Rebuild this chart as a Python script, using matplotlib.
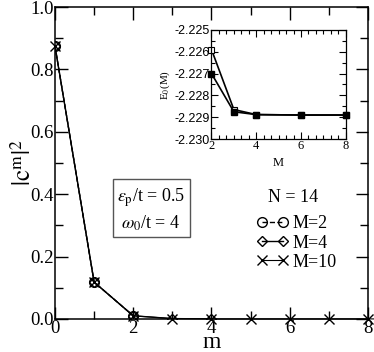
import matplotlib
matplotlib.use('Agg')
import matplotlib.pyplot as plt
from matplotlib.ticker import MultipleLocator, FormatStrFormatter

# main panel: weight of the m-phonon sector, N = 14
m2 = [0, 1, 2]
c2 = [0.875, 0.118, 0.010]
m4 = [0, 1, 2, 3, 4]
c4 = [0.875, 0.118, 0.010, 0.001, 0.0]
m10 = [0, 1, 2, 3, 4, 5, 6, 7, 8, 9]
c10 = [0.875, 0.118, 0.010, 0.001, 0.0, 0.0, 0.0, 0.0, 0.0, 0.0]

# inset: ground state energy vs cutoff M
M_open = [2, 3, 4, 6, 8]
E_open = [-2.2259, -2.22865, -2.22888, -2.2289, -2.2289]
M_full = [2, 3, 4, 6, 8]
E_full = [-2.2270, -2.22875, -2.22888, -2.2289, -2.2289]

plt.rcParams['font.family'] = 'Liberation Serif'
plt.rcParams['mathtext.fontset'] = 'stix'

fig = plt.figure(figsize=(3.74, 3.52), dpi=100)
ax = fig.add_axes([0.147, 0.094, 0.837, 0.886])

ax.plot(m2, c2, '--', color='k', lw=1.0, marker='o', ms=7, mfc='none', mec='k', mew=1.0, label='M=2')
ax.plot(m4, c4, '-', color='k', lw=1.0, marker='D', ms=5.5, mfc='none', mec='k', mew=1.0, label='M=4')
ax.plot(m10, c10, '-', color='k', lw=0.8, marker='x', ms=7, mec='k', mew=1.0, label='M=10', clip_on=False)
ax.set_xlim(0, 8)
ax.set_ylim(0, 1.0)
ax.xaxis.set_major_locator(MultipleLocator(2))
ax.xaxis.set_minor_locator(MultipleLocator(1))
ax.yaxis.set_major_locator(MultipleLocator(0.2))
ax.yaxis.set_minor_locator(MultipleLocator(0.1))
ax.yaxis.set_major_formatter(FormatStrFormatter('%.1f'))
ax.tick_params(which='both', direction='in', top=True, right=True, labelsize=13.5, width=1.0, pad=1)
ax.tick_params(which='major', length=9)
ax.tick_params(which='minor', length=5.5)
for s in ax.spines.values():
    s.set_linewidth(1.1)
ax.set_xlabel('m', fontsize=17, labelpad=-4)
ax.set_ylabel(r'$|\mathrm{c}^{\mathrm{m}}|^2$', fontsize=18, labelpad=-4)

ax.text(0.307, 0.35, '$\\varepsilon_{\\mathrm{p}}$/t = 0.5\n$\\omega_0$/t = 4', transform=ax.transAxes,
        ha='center', va='center', fontsize=13, linespacing=1.25,
        bbox=dict(boxstyle='square,pad=0.25', fc='white', ec='#555555', lw=1.0))
ax.text(0.76, 0.39, 'N = 14', transform=ax.transAxes, ha='center', va='center', fontsize=13)
ax.legend(loc='upper left', bbox_to_anchor=(0.62, 0.355), frameon=False, fontsize=13, numpoints=2,
          handlelength=1.8, handletextpad=0.2, labelspacing=0.12, borderaxespad=0)

# inset
ins = fig.add_axes([0.5655, 0.605, 0.359, 0.31])
ins.plot(M_open, E_open, '-', color='k', lw=1.2, marker='s', ms=5, mfc='white', mec='k', mew=0.8, clip_on=False)
ins.plot(M_full, E_full, '-', color='k', lw=1.2, marker='s', ms=5, mfc='k', mec='k', clip_on=False)
ins.set_xlim(2, 8)
ins.set_ylim(-2.230, -2.225)
ins.xaxis.set_major_locator(MultipleLocator(2))
ins.xaxis.set_minor_locator(MultipleLocator(1 / 3))
ins.yaxis.set_major_locator(MultipleLocator(0.001))
ins.yaxis.set_minor_locator(MultipleLocator(0.0005))
ins.yaxis.set_major_formatter(FormatStrFormatter('%.3f'))
ins.tick_params(which='both', direction='in', top=True, right=True, width=0.8, pad=1)
ins.tick_params(which='major', length=5)
ins.tick_params(which='minor', length=3)
ins.tick_params(axis='x', labelsize=9)
ins.tick_params(axis='y', labelsize=9)
for lab in ins.get_yticklabels():
    lab.set_family('Liberation Sans')
for s in ins.spines.values():
    s.set_linewidth(0.9)
ins.set_xlabel('M', fontsize=9, labelpad=3)
ins.set_ylabel(r'E$_0$(M)', fontsize=8, labelpad=2)

fig.savefig('out.png', dpi=100)
